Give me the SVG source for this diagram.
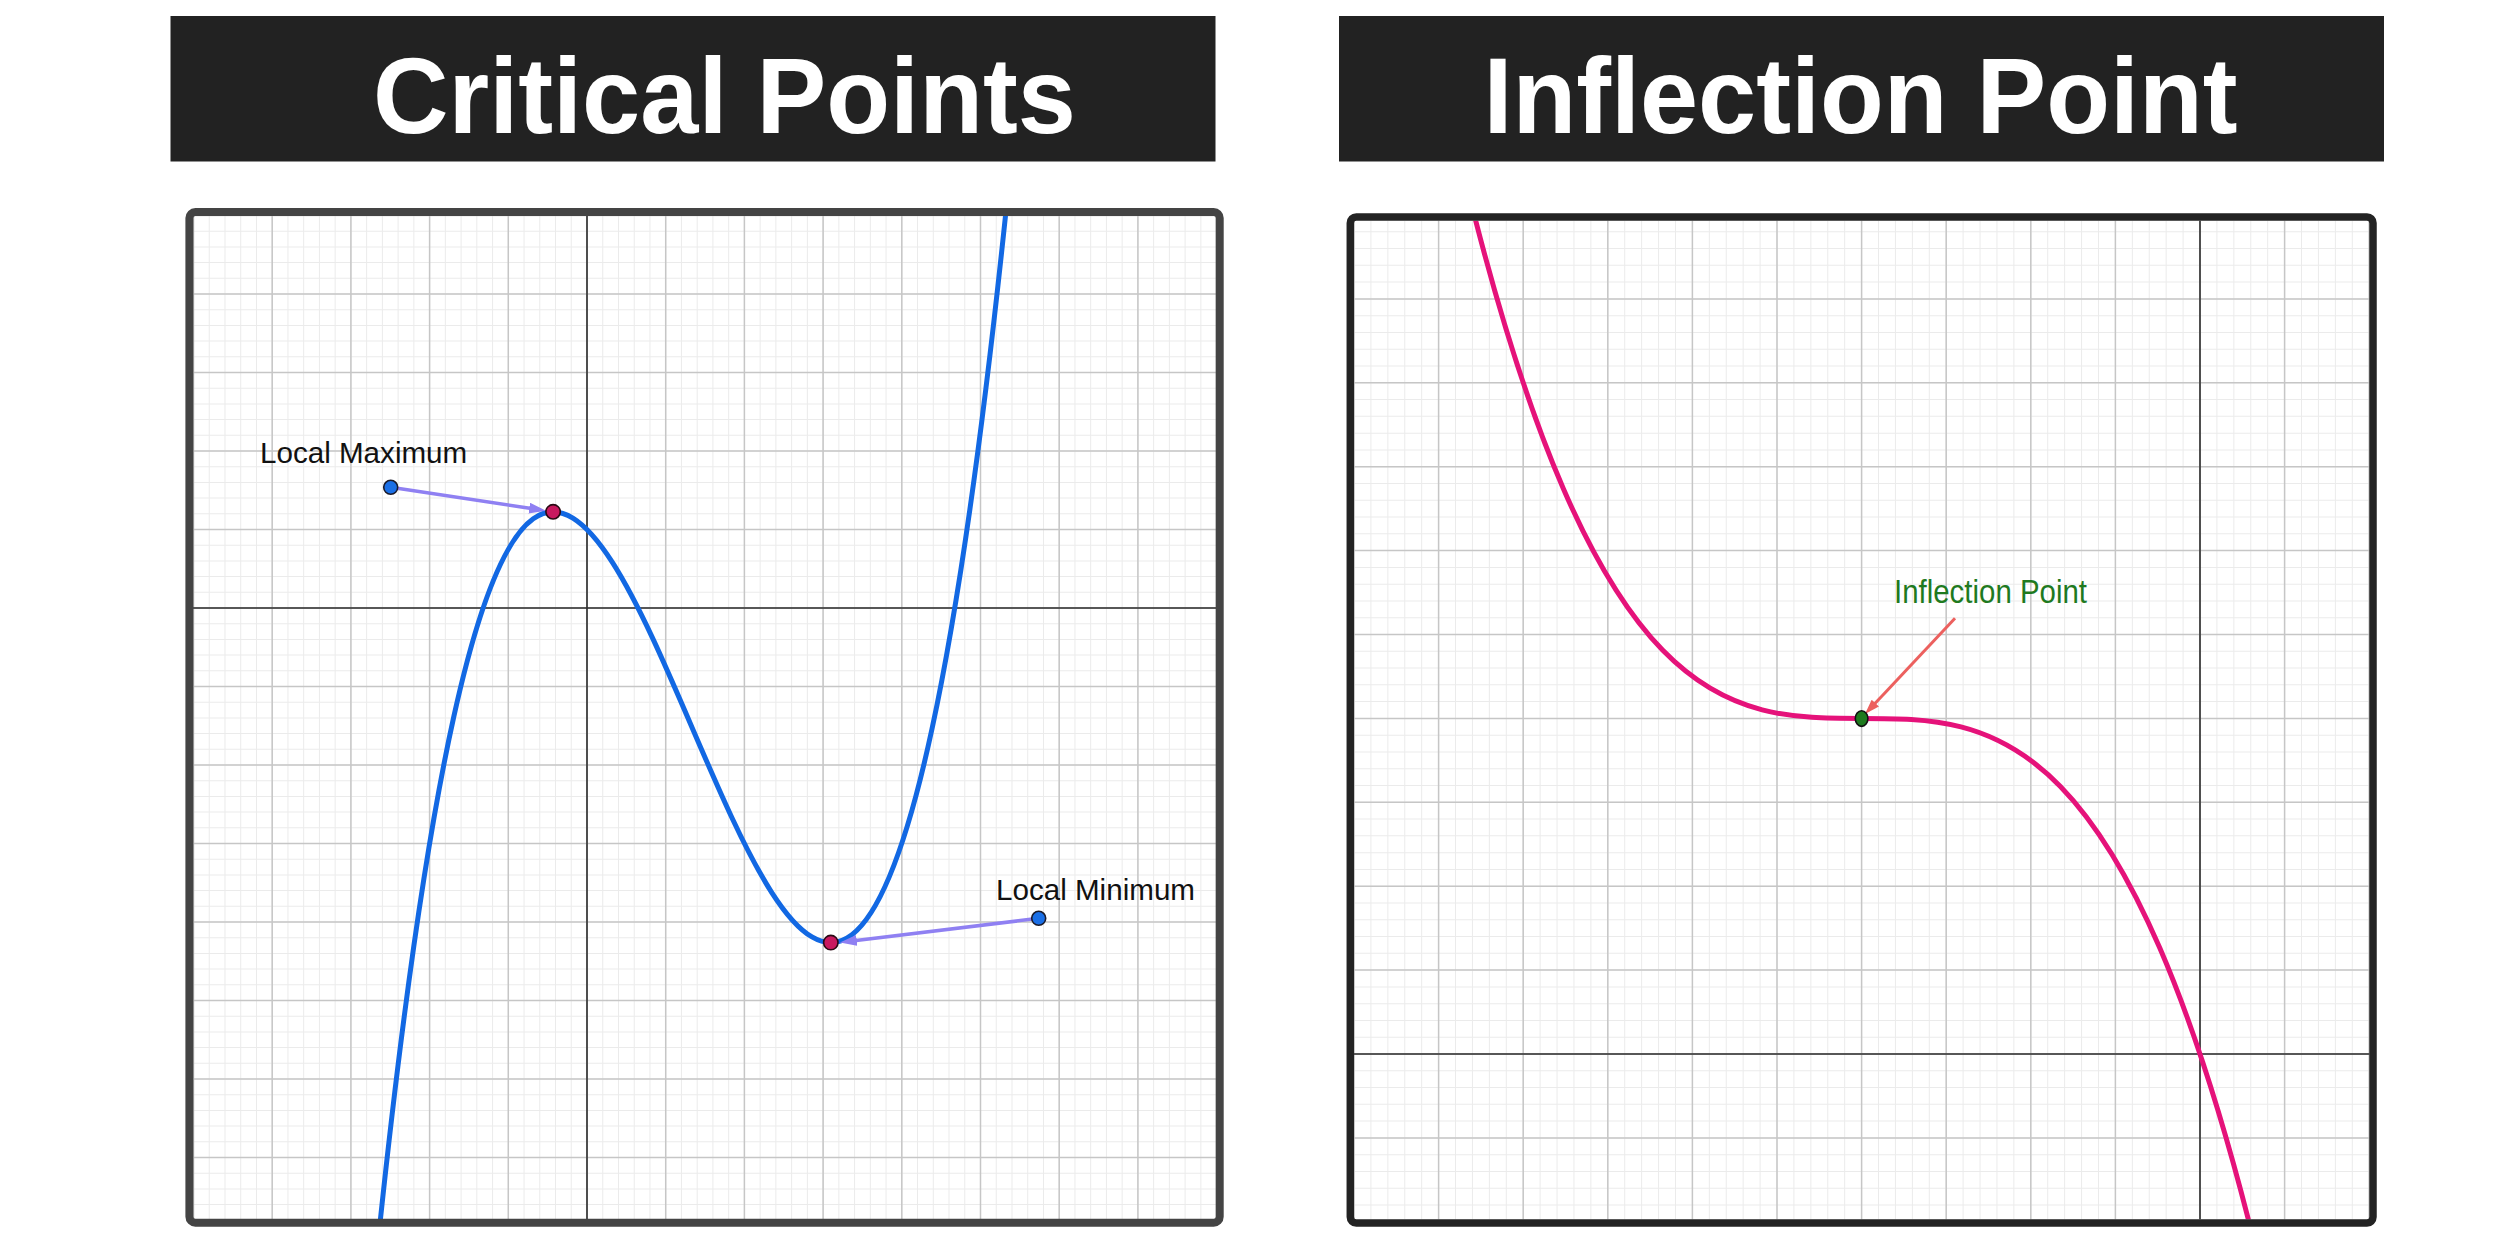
<svg xmlns="http://www.w3.org/2000/svg" width="2500" height="1253" viewBox="0 0 2500 1253">
<style>
.bar{fill:#222222}
.title{font-family:"Liberation Sans",Arial,Helvetica,sans-serif;font-weight:bold;font-size:108px;fill:#ffffff}
.label{font-family:"Liberation Sans",Arial,Helvetica,sans-serif;font-size:29.6px;fill:#111111}
.ilabel{font-family:"Liberation Sans",Arial,Helvetica,sans-serif;font-size:33px;fill:#1f7a1f}
.minor{stroke:#ebebeb;fill:none}
.major{stroke:#c6c6c6;fill:none}
.axis{stroke:#2e2e2e;stroke-width:1.6;fill:none}
.frame{fill:none;stroke-linejoin:round}
.bluedot{fill:#1a6fe6;stroke:#1b1b2b;stroke-width:1.6}
.reddot{fill:#c8195f;stroke:#2a0a14;stroke-width:1.6}
.greendot{fill:#1e7a1e;stroke:#111111;stroke-width:1.6}
.pointer{fill:none;stroke:#8f80f2;stroke-width:3.6}
.ipointer{fill:none;stroke:#ec605e;stroke-width:3}
</style>
<defs>
<clipPath id="clip1"><rect x="193" y="216" width="1023" height="1003.5"/></clipPath>
<clipPath id="clip2"><rect x="1354" y="220.7" width="1015.3" height="998.6"/></clipPath>
<marker id="headPurple" markerUnits="userSpaceOnUse" markerWidth="18" markerHeight="12" refX="9" refY="5.5" orient="auto">
<path d="M0,0 L17,5.5 L0,11 z" fill="#8f80f2"/>
</marker>
<marker id="headRed" markerUnits="userSpaceOnUse" markerWidth="16" markerHeight="11" refX="7" refY="5" orient="auto">
<path d="M0,0 L15,5 L0,10 z" fill="#ec605e"/>
</marker>
</defs>
<rect width="2500" height="1253" fill="#ffffff"/>

<g id="title-critical-points">
<rect class="bar" x="170.5" y="16" width="1045" height="145.5"/>
<text class="title" x="373" y="133" textLength="703" lengthAdjust="spacingAndGlyphs">Critical Points</text>
</g>
<g id="title-inflection-point">
<rect class="bar" x="1339" y="16" width="1045" height="145.5"/>
<text class="title" x="1483.5" y="133" textLength="754" lengthAdjust="spacingAndGlyphs">Inflection Point</text>
</g>

<g id="panel-critical-points">
<rect x="189.4" y="212" width="1030.3" height="1010.8" fill="#ffffff"/>
<g clip-path="url(#clip1)">
<line class="minor" x1="193" y1="717.5" x2="1220" y2="717.5" stroke-width="1010" stroke-dasharray="1 14.74"/>
<line class="minor" x1="704.5" y1="215" x2="704.5" y2="1222" stroke-width="1030" stroke-dasharray="1 14.7"/>
<line class="major" x1="192.75" y1="717.5" x2="1220" y2="717.5" stroke-width="1010" stroke-dasharray="1.5 77.2"/>
<line class="major" x1="704.5" y1="214.75" x2="704.5" y2="1222" stroke-width="1030" stroke-dasharray="1.5 77"/>
<line class="axis" x1="587" y1="214" x2="587" y2="1222"/>
<line class="axis" x1="190" y1="608" x2="1218" y2="608"/>
<path id="curve-cubic" d="M374.51,1276.09 C587,-815.32 799.49,2286.57 1011.98,152.23" fill="none" stroke="#1268e3" stroke-width="5"/>
</g>
<rect class="frame" x="189.4" y="212" width="1030.3" height="1010.8" rx="6" stroke="#444444" stroke-width="8"/>
</g>

<g id="panel-inflection-point">
<rect x="1350.3" y="217" width="1022.7" height="1006" fill="#ffffff"/>
<g clip-path="url(#clip2)">
<line class="minor" x1="1353.5" y1="720" x2="2372" y2="720" stroke-width="1010" stroke-dasharray="1 15.92"/>
<line class="minor" x1="1861.5" y1="214.5" x2="1861.5" y2="1222" stroke-width="1020" stroke-dasharray="1 15.78"/>
<line class="major" x1="1353.25" y1="720" x2="2372" y2="720" stroke-width="1010" stroke-dasharray="1.5 83.1"/>
<line class="major" x1="1861.5" y1="214.25" x2="1861.5" y2="1222" stroke-width="1020" stroke-dasharray="1.5 82.4"/>
<line class="axis" x1="2200" y1="218" x2="2200" y2="1222" stroke="#222222"/>
<line class="axis" x1="1352" y1="1054" x2="2371" y2="1054" stroke="#222222"/>
<path id="curve-inflection" d="M1463.98,173.98 C1729.06,1262.84 1994.14,173.96 2259.22,1262.82" fill="none" stroke="#e5127a" stroke-width="5"/>
</g>
<rect class="frame" x="1350.3" y="217" width="1022.7" height="1006" rx="6" stroke="#232323" stroke-width="7.5"/>
</g>

<g id="connectors">
<path id="arrow-local-max" class="pointer" d="M390.7,487.3 L538.1,509.5" marker-end="url(#headPurple)"/>
<path id="arrow-local-min" class="pointer" d="M1038.7,918.3 L847.9,941.5" marker-end="url(#headPurple)"/>
<path id="arrow-inflection" class="ipointer" d="M1955,618.3 L1870.5,708.2" marker-end="url(#headRed)"/>
</g>

<g id="node-local-maximum-label">
<text class="label" x="260" y="463">Local Maximum</text>
<circle class="bluedot" cx="390.7" cy="487.3" r="7"/>
</g>
<g id="node-local-maximum-point">
<circle class="reddot" cx="553.1" cy="511.8" r="7.2"/>
</g>
<g id="node-local-minimum-label">
<text class="label" x="996" y="900">Local Minimum</text>
<circle class="bluedot" cx="1038.7" cy="918.3" r="7"/>
</g>
<g id="node-local-minimum-point">
<circle class="reddot" cx="830.8" cy="942.6" r="7.2"/>
</g>
<g id="node-inflection-label">
<text class="ilabel" x="1894" y="603.3" textLength="193" lengthAdjust="spacingAndGlyphs">Inflection Point</text>
</g>
<g id="node-inflection-point">
<ellipse class="greendot" cx="1861.6" cy="718.6" rx="6.3" ry="7.8"/>
</g>
</svg>
